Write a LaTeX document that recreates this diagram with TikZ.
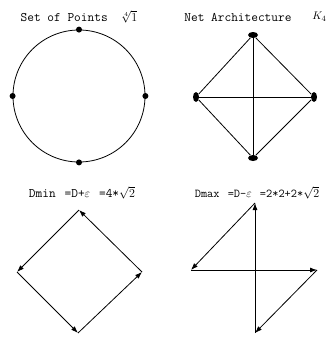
\documentclass[tikz,border=0pt]{standalone}
\usetikzlibrary{shapes.geometric, arrows.meta}
\begin{document}
\begin{tikzpicture}[x=1pt, y=-1pt, line width=0.8pt,
    dot/.style={circle, fill, inner sep=0pt, minimum size=6pt},
    hblob/.style={ellipse, fill, inner sep=0pt, minimum width=10pt, minimum height=6pt},
    vblob/.style={ellipse, fill, inner sep=0pt, minimum width=6pt, minimum height=10pt},
    link/.style={-{Latex[length=7pt, width=5pt]}},
    title/.style={font=\ttfamily\fontsize{13}{15}\selectfont, inner sep=0pt}]
    \useasboundingbox (0,0) rectangle (327,340);

    % set of points
    \node[title] (pts) at (79,17) {Set of Points \ $\sqrt[4]{1}$};
    \node[circle, draw, inner sep=0pt, minimum size=132pt] (ring) at (79,96) {};
    \node[dot] (pn) at (ring.north) {};
    \node[dot] (ps) at (ring.south) {};
    \node[dot] (pw) at (ring.west) {};
    \node[dot] (pe) at (ring.east) {};

    % net architecture K4
    \node[title, anchor=west] (net) at (184,17) {Net Architecture};
    \node[title, anchor=west, font=\fontsize{11}{13}\selectfont] (kfour) at (312,17) {$K_4$};
    \node[hblob] (nt) at (253,35) {};
    \node[vblob] (nl) at (196,97) {};
    \node[vblob] (nr) at (314,97) {};
    \node[hblob] (nb) at (253,158) {};
    \draw (nt) -- (nl) -- (nb) -- (nr) -- (nt);
    \draw (nt) -- (nb);
    \draw (nl) -- (nr);

    % Dmin
    \node[title] (dmin) at (82,193) {Dmin \,=D+$\varepsilon$ \,=4*$\sqrt{2}$};
    \coordinate (at) at (79,210);
    \coordinate (al) at (17,272);
    \coordinate (ar) at (142,272);
    \coordinate (ab) at (78,333);
    \draw[link] (at) -- (al);
    \draw[link] (al) -- (ab);
    \draw[link] (ab) -- (ar);
    \draw[link] (ar) -- (at);

    % Dmax
    \node[title, font=\ttfamily\fontsize{12}{14}\selectfont] (dmax) at (257,193) {Dmax \,=D-$\varepsilon$ \,=2*2+2*$\sqrt{2}$};
    \coordinate (bt) at (255,203);
    \coordinate (bl) at (191,270);
    \coordinate (br) at (317,270);
    \coordinate (bb) at (255,333);
    \draw[link] (bt) -- (bl);
    \draw[link] (bl) -- (br);
    \draw[link] (br) -- (bb);
    \draw[link] (bb) -- (bt);
\end{tikzpicture}
\end{document}
